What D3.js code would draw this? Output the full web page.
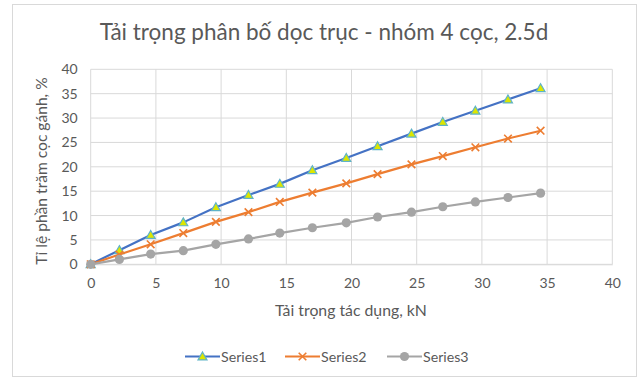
<!DOCTYPE html>
<html>
<head>
<meta charset="utf-8">
<script src="https://cdn.jsdelivr.net/npm/d3@7/dist/d3.min.js"></script>
<style>
  html, body { margin: 0; padding: 0; background: #fff; }
  svg { display: block; font-family: Lato, "Open Sans", sans-serif; }
</style>
</head>
<body>
<div id="chart"></div>
<script>
// ---- Data ----
const loads = [0, 2.2, 4.6, 7.1, 9.6, 12.1, 14.5, 17.0, 19.6, 22.0, 24.6, 27.0, 29.5, 32.0, 34.5];
const series1 = [0, 2.9, 6.0, 8.6, 11.7, 14.2, 16.5, 19.3, 21.8, 24.2, 26.8, 29.2, 31.5, 33.8, 36.1];
const series2 = [0, 2.0, 4.1, 6.4, 8.7, 10.7, 12.8, 14.7, 16.6, 18.5, 20.5, 22.2, 24.0, 25.8, 27.4];
const series3 = [0, 1.0, 2.1, 2.8, 4.1, 5.2, 6.4, 7.5, 8.5, 9.7, 10.7, 11.8, 12.8, 13.7, 14.6];
const seriesNames = ['Series1', 'Series2', 'Series3'];
const xTicks = [0, 5, 10, 15, 20, 25, 30, 35, 40];
const yTicks = [0, 5, 10, 15, 20, 25, 30, 35, 40];

const title = 'Tải trọng phân bố dọc trục - nhóm 4 cọc, 2.5d';
const xTitle = 'Tải trọng tác dụng, kN';
const yTitle = 'Tỉ lệ phần trăm cọc gánh, %';

const W = 640, H = 379;
const textColor = '#595959';
const gridColor = '#d9d9d9';

const svg = d3.select('#chart').append('svg')
  .attr('width', W).attr('height', H);

svg.append('rect').attr('width', W).attr('height', H).attr('fill', '#fff');

// chart border
svg.append('rect')
  .attr('x', 12.5).attr('y', 4.5).attr('width', 624).attr('height', 372)
  .attr('fill', 'none').attr('stroke', gridColor);

// ---- Scales ----
const x = d3.scaleLinear().domain([0, 40]).range([90.7, 612.3]);
const y = d3.scaleLinear().domain([0, 40]).range([264.3, 69.3]);

// ---- Grid ----
const grid = svg.append('g');
grid.selectAll('.gx').data(xTicks).join('line')
  .attr('x1', d => x(d)).attr('x2', d => x(d))
  .attr('y1', y(0)).attr('y2', y(40))
  .attr('stroke', gridColor).attr('stroke-width', 1);
grid.selectAll('.gy').data(yTicks).join('line')
  .attr('x1', x(0)).attr('x2', x(40))
  .attr('y1', d => y(d)).attr('y2', d => y(d))
  .attr('stroke', gridColor).attr('stroke-width', 1);

// ---- Axes ----
svg.append('g')
  .attr('transform', `translate(0,${y(0)})`)
  .call(d3.axisBottom(x).tickValues(xTicks).tickSize(0).tickPadding(14))
  .call(g => g.select('.domain').attr('stroke', gridColor))
  .call(g => g.selectAll('text').attr('fill', textColor).attr('font-size', 14)
    .attr('font-family', 'Lato, sans-serif'));

svg.append('g')
  .attr('transform', `translate(${x(0)},0)`)
  .call(d3.axisLeft(y).tickValues(yTicks).tickSize(0).tickPadding(13))
  .call(g => g.select('.domain').remove())
  .call(g => g.selectAll('text').attr('fill', textColor).attr('font-size', 14)
    .attr('font-family', 'Lato, sans-serif'));

// ---- Titles ----
svg.append('text')
  .attr('x', 324).attr('y', 40)
  .attr('text-anchor', 'middle')
  .attr('font-size', 22.5)
  .attr('fill', textColor)
  .text(title);

svg.append('text')
  .attr('x', 351).attr('y', 316)
  .attr('text-anchor', 'middle')
  .attr('font-size', 15.8)
  .attr('fill', textColor)
  .text(xTitle);

svg.append('text')
  .attr('transform', 'translate(47,171) rotate(-90)')
  .attr('text-anchor', 'middle')
  .attr('font-size', 15.6)
  .attr('fill', textColor)
  .text(yTitle);

// ---- Series ----
const seriesData = [series1, series2, series3];
const colors = ['#4472c4', '#ed7d31', '#a5a5a5'];

const line = d3.line().x(d => x(d[0])).y(d => y(d[1]));

function drawMarker(g, kind, cx, cy, color) {
  if (kind === 0) {
    const s = 4.5;
    g.append('path')
      .attr('d', `M${cx},${cy - s} L${cx + s},${cy + s * 0.75} L${cx - s},${cy + s * 0.75} Z`)
      .attr('fill', '#dde600').attr('stroke', '#5fb3c8').attr('stroke-width', 1.2);
  } else if (kind === 1) {
    const s = 3.8;
    g.append('path')
      .attr('d', `M${cx - s},${cy - s} L${cx + s},${cy + s} M${cx - s},${cy + s} L${cx + s},${cy - s}`)
      .attr('stroke', color).attr('stroke-width', 1.6).attr('fill', 'none');
  } else {
    g.append('circle').attr('cx', cx).attr('cy', cy).attr('r', 4.6).attr('fill', color);
  }
}

seriesData.forEach((vals, si) => {
  const pts = loads.map((l, i) => [l, vals[i]]);
  const g = svg.append('g');
  g.append('path')
    .datum(pts)
    .attr('d', line)
    .attr('fill', 'none')
    .attr('stroke', colors[si])
    .attr('stroke-width', 2.2)
    .attr('stroke-linejoin', 'round');
  pts.forEach(p => drawMarker(g, si, x(p[0]), y(p[1]), colors[si]));
});

// ---- Legend ----
const legendX = [185, 285, 387];
const legend = svg.append('g');
seriesNames.forEach((name, si) => {
  const lx = legendX[si], ly = 356.5;
  legend.append('line')
    .attr('x1', lx).attr('x2', lx + 35)
    .attr('y1', ly).attr('y2', ly)
    .attr('stroke', colors[si]).attr('stroke-width', 2.2);
  drawMarker(legend, si, lx + 17.5, ly, colors[si]);
  legend.append('text')
    .attr('x', lx + 36).attr('y', ly + 5)
    .attr('font-size', 14.2)
    .attr('fill', textColor)
    .text(name);
});
</script>
</body>
</html>
